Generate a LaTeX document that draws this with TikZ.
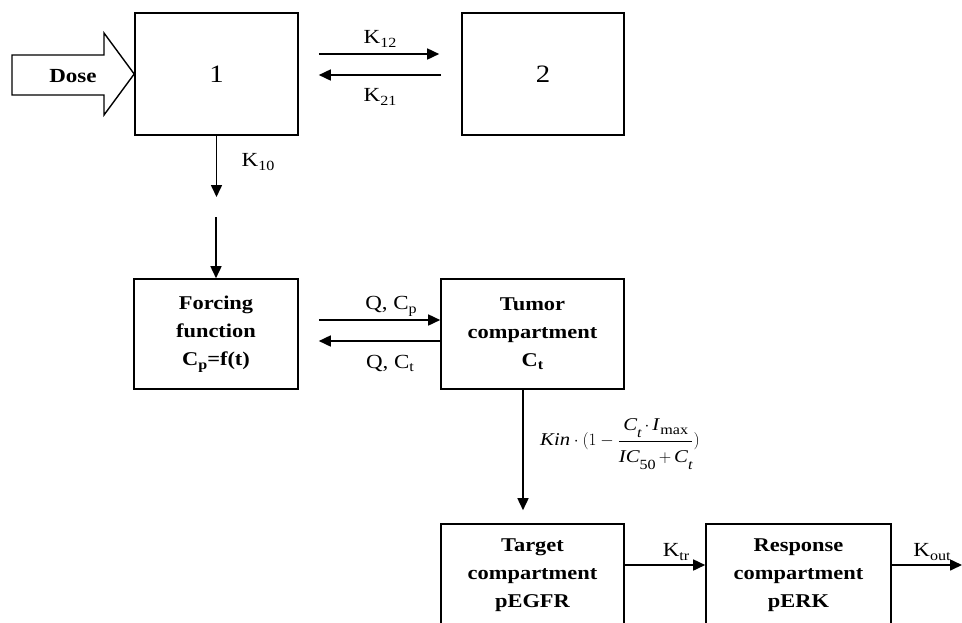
\documentclass[tikz,border=0pt]{standalone}
\usepackage{fontspec}
\setmainfont{Liberation Serif}[FakeStretch=1.15]
\usetikzlibrary{arrows.meta,calc}
\newcommand\ksub[2][4pt]{\raisebox{-#1}{\fontsize{14}{14}\selectfont #2}}
\newcommand\bsub[2][4pt]{\raisebox{-#1}{\fontsize{14}{14}\selectfont\bfseries #2}}
\begin{document}
\begin{tikzpicture}[x=1pt,y=1pt,
  box/.style={draw, line width=1.6pt, inner sep=0pt, align=center,
    font=\fontsize{19.5}{28}\selectfont\bfseries},
  numbox/.style={draw, line width=1.6pt, inner sep=0pt, align=center,
    font=\fontsize{25}{28}\selectfont},
  lbl/.style={anchor=base, inner sep=0pt, font=\fontsize{20}{24}\selectfont},
  arr/.style={-{Triangle[length=12pt,width=11pt]}, line width=1.6pt}]
\useasboundingbox (0,0) rectangle (962,-622);
\clip (0,0) rectangle (962,-622);
% boxes
\node[numbox, minimum width=163pt, minimum height=122pt] (box1) at (216.5,-74) {1};
\node[numbox, minimum width=162pt, minimum height=122pt] (box2) at (543,-74) {2};
\node[box, minimum width=164pt, minimum height=110pt] (forcing) at (216,-334)
  {Forcing\\function\\C\bsub{p}=f(t)};
\node[box, minimum width=183pt, minimum height=110pt] (tumor) at (532.5,-334)
  {Tumor\\compartment\\C\bsub[3pt]{t}};
\node[box, minimum width=183pt, minimum height=102pt] (target) at (532.5,-575)
  {Target\\compartment\\pEGFR};
\node[box, minimum width=185pt, minimum height=102pt] (response) at (798.5,-575)
  {Response\\compartment\\pERK};
% dose arrow
\draw[line width=1.4pt] (12,-55) -- (104,-55) -- (104,-33) -- (box1.west) -- (104,-115) -- (104,-95) -- (12,-95) -- cycle;
\node[font=\fontsize{20}{24}\selectfont\bfseries] (dose) at (73,-76) {Dose};
% connectors
\draw[arr] ([shift={(20,20)}]box1.east) -- ([shift={(-22,20)}]box2.west);
\draw[arr] ([shift={(-20,-1)}]box2.west) -- ([shift={(20,-1)}]box1.east);
\coordinate (k10end) at (216.5,-197);
\draw[arr] (box1.south) -- (k10end);
\coordinate (fstart) at (216,-217);
\draw[arr] (fstart) -- (forcing.north);
\draw[arr] ([shift={(20,14)}]forcing.east) -- ([yshift=14]tumor.west);
\draw[arr] ([yshift=-7]tumor.west) -- ([shift={(20,-7)}]forcing.east);
\draw[arr] ([xshift=-9.5]tumor.south) -- ([shift={(-9.5,13)}]target.north);
\draw[arr] ([yshift=10]target.east) -- ([yshift=10]response.west);
\coordinate (outend) at (962,-565);
\draw[arr] ([yshift=10]response.east) -- (outend);
% labels
\node[lbl] (k12) at (380,-43) {K\ksub{12}};
\node[lbl] (k21) at (380,-101) {K\ksub{21}};
\node[lbl] (k10) at (258,-166) {K\ksub{10}};
\node[lbl] (qcp) at (391,-309) {Q, C\ksub{p}};
\node[lbl] (qct) at (390,-368) {Q, C\ksub[3pt]{t}};
\node[lbl] (ktr) at (676,-556) {K\ksub{tr}};
\node[lbl] (kout) at (932,-556) {K\ksub{out}};
\node[inner sep=0pt, font=\fontsize{18}{20}\selectfont] (formula) at (620,-444)
  {$\mbox{\itshape Kin}\cdot(1-\displaystyle\frac{\mbox{\itshape C\ksub[7pt]{t}\,$\cdot$\,I\kern1pt\ksub[4pt]{\upshape max}\rule[-9pt]{0pt}{9pt}}}{\mbox{\rule{0pt}{20pt}\itshape IC\ksub[7pt]{\upshape 50}\,$+$\,C\ksub[7pt]{t}}})$};
\end{tikzpicture}
\end{document}
